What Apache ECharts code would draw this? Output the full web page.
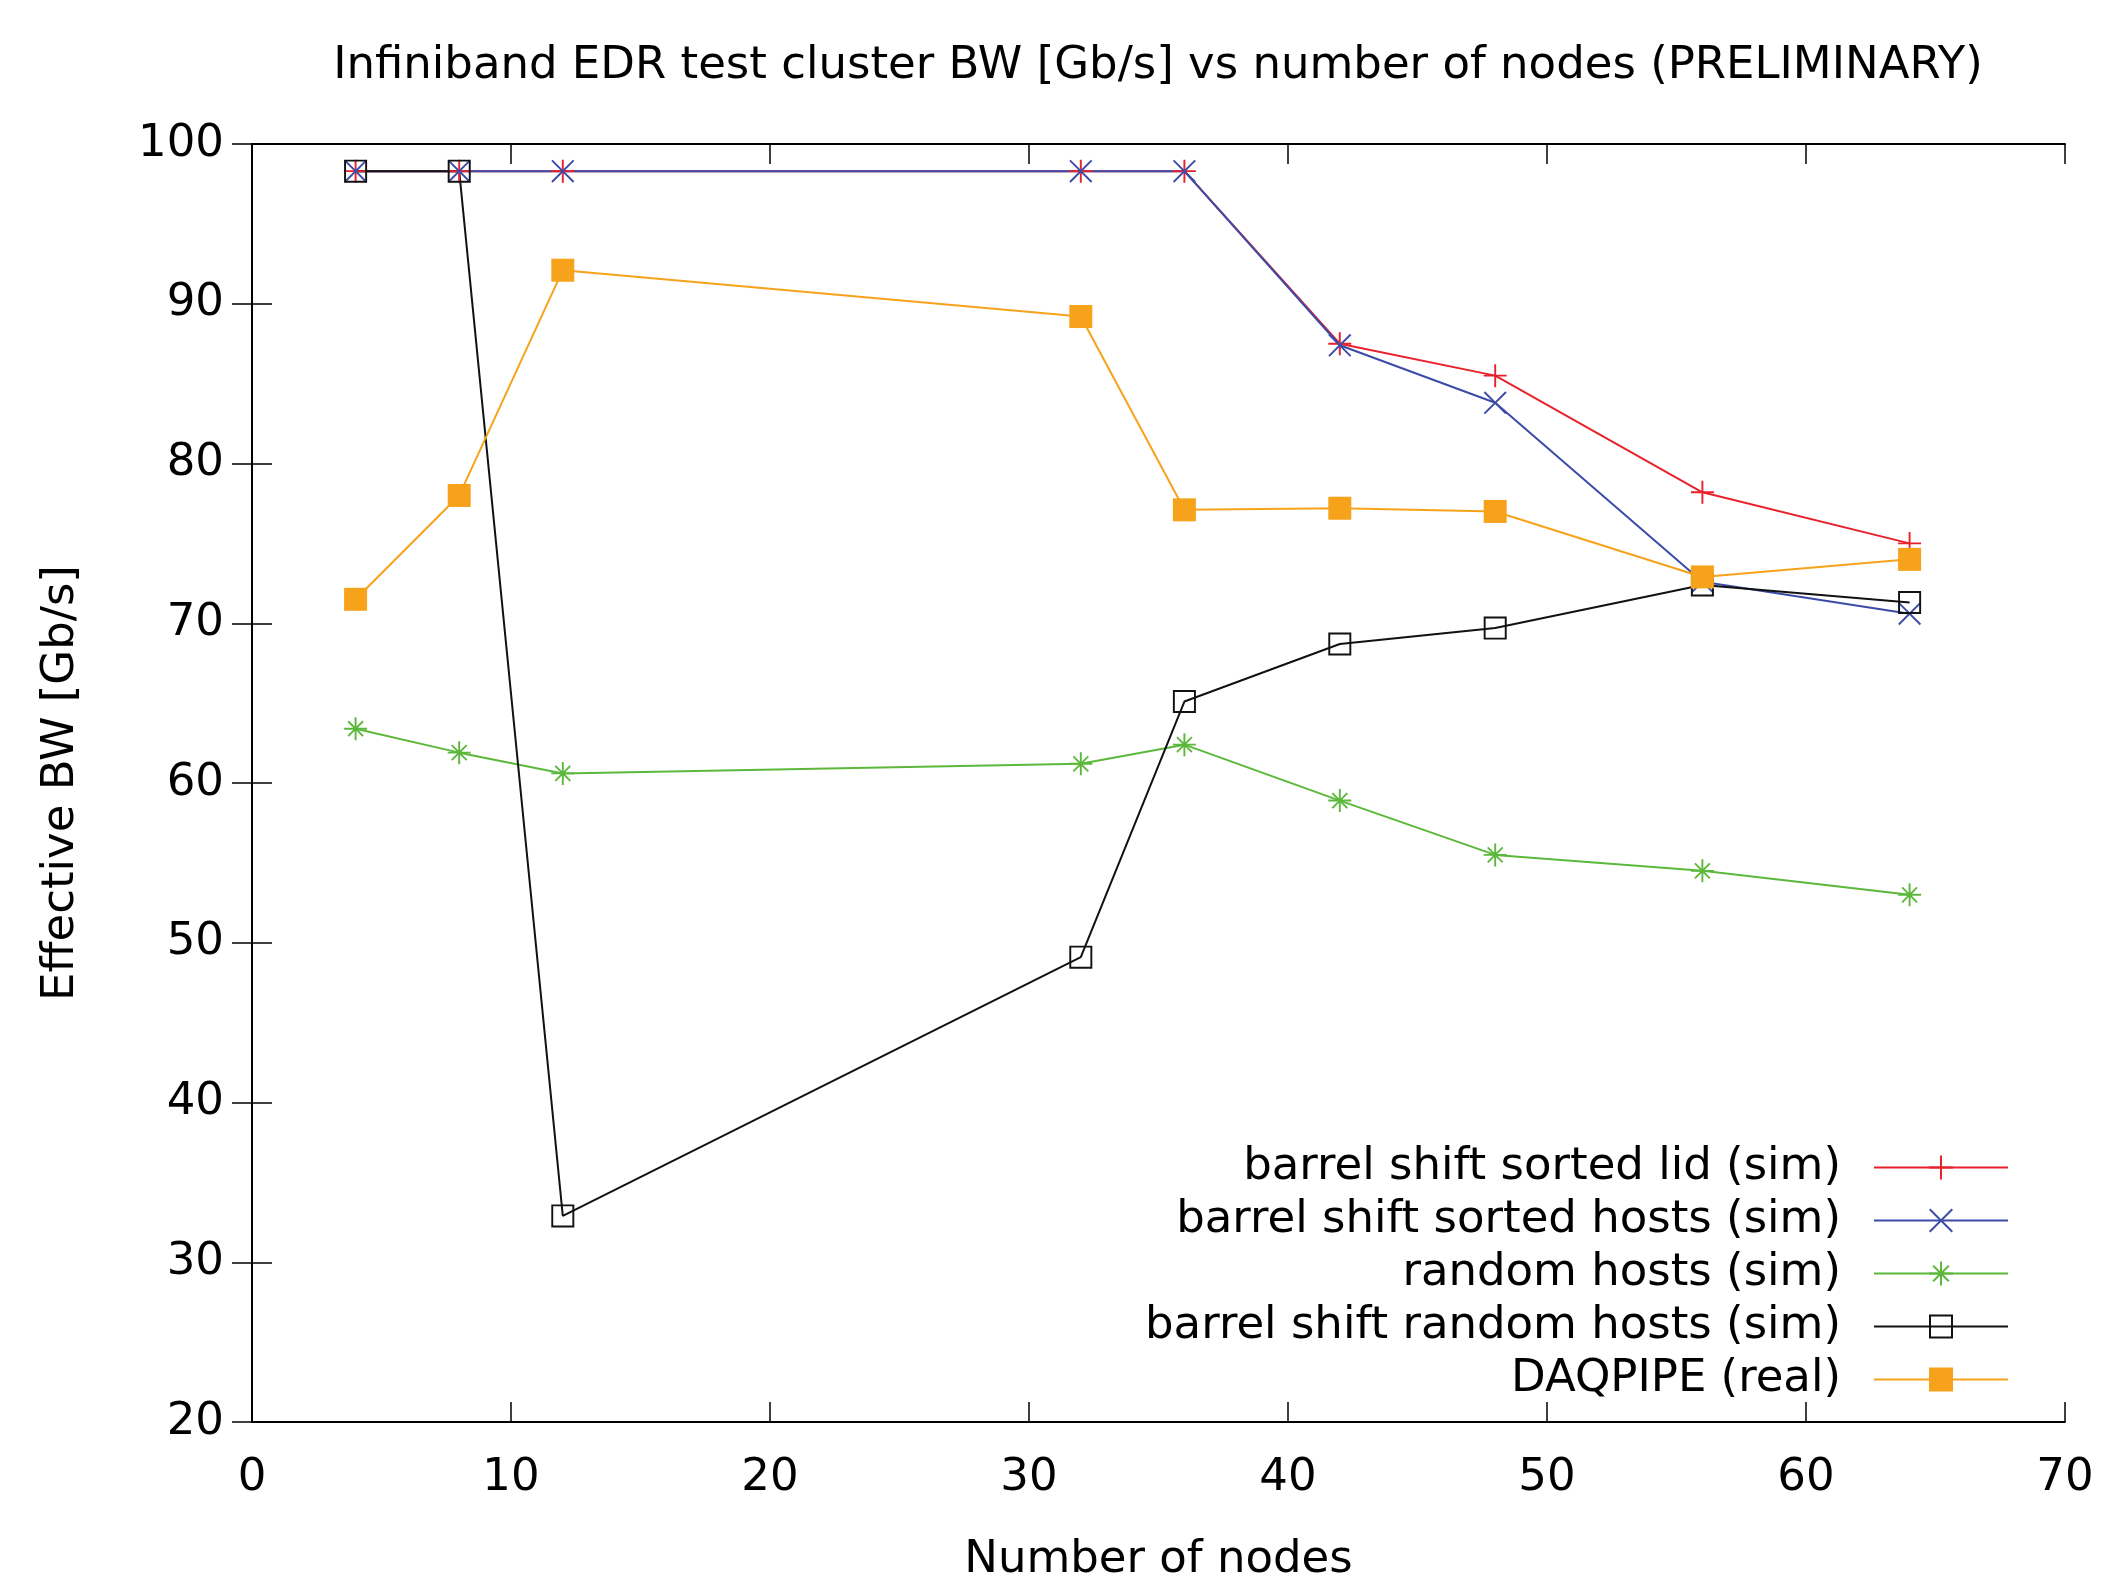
<!DOCTYPE html>
<html>
<head>
<meta charset="utf-8">
<script src="https://cdn.jsdelivr.net/npm/echarts@6/dist/echarts.min.js"></script>
<style>
  html, body { margin: 0; padding: 0; background: #fff; }
  #chart { width: 2105px; height: 1573px; }
</style>
</head>
<body>
<div id="chart"></div>
<script>
// number of nodes
const nodes = [4, 8, 12, 32, 36, 42, 48, 56, 64];

// effective BW [Gb/s]
const sortedLid = [98.3, 98.3, 98.3, 98.3, 98.3, 87.5, 85.5, 78.2, 75.0];
const sortedHosts = [98.3, 98.3, 98.3, 98.3, 98.3, 87.4, 83.8, 72.6, 70.6];
const randomHosts = [63.4, 61.9, 60.6, 61.2, 62.4, 58.9, 55.5, 54.5, 53.0];
const barrelRandom = [98.3, 98.3, 32.9, 49.1, 65.1, 68.7, 69.7, 72.4, 71.3];
const daqpipe = [71.5, 78.0, 92.1, 89.2, 77.1, 77.2, 77.0, 72.9, 74.0];

const seriesNames = [
  'barrel shift sorted lid (sim)',
  'barrel shift sorted hosts (sim)',
  'random hosts (sim)',
  'barrel shift random hosts (sim)',
  'DAQPIPE (real)'
];

const FONT = 'DejaVu Sans';
const FS = 45;

// gnuplot-like point types, drawn as filled outlines
const PLUS = 'path://M11,0h2v11h11v2h-11v11h-2v-11h-11v-2h11z';
const CROSS = 'path://M0,1.4L1.4,0L24,22.6L22.6,24Z M1.4,24L0,22.6L22.6,0L24,1.4Z';
const STAR = 'path://M11,0h2v11h11v2h-11v11h-2v-11h-11v-2h11z' +
  ' M3.5,4.9L4.9,3.5L20.5,19.1L19.1,20.5Z M4.9,20.5L3.5,19.1L19.1,3.5L20.5,4.9Z';
const BOX = 'path://M0,0H24V24H0Z M2,2V22H22V2Z';

function pts(ys) {
  return nodes.map((x, i) => [x, ys[i]]);
}

function mkSeries(name, ys, color, symbol) {
  return {
    name: name,
    type: 'line',
    data: pts(ys),
    symbol: symbol,
    symbolSize: 23,
    showSymbol: true,
    lineStyle: { color: color, width: 2 },
    itemStyle: { color: color, borderWidth: 0 },
    emphasis: { disabled: true },
    animation: false
  };
}

const chart = echarts.init(document.getElementById('chart'));

const mirrorAxis = {
  axisLabel: { show: false },
  axisTick: { show: true, inside: true, length: 20, lineStyle: { color: '#000', width: 1.5 } },
  axisLine: { show: true, lineStyle: { color: '#000', width: 2 } },
  splitLine: { show: false }
};

chart.setOption({
  backgroundColor: '#fff',
  textStyle: { fontFamily: FONT },
  graphic: [{
    type: 'text',
    x: 1158,
    y: 66,
    style: {
      text: 'Infiniband EDR test cluster BW [Gb/s] vs number of nodes (PRELIMINARY)',
      font: FS + 'px "DejaVu Sans"',
      fill: '#000',
      align: 'center',
      verticalAlign: 'middle'
    }
  }],
  grid: { left: 252, right: 40, top: 144, bottom: 151, containLabel: false, outerBoundsMode: 'none' },
  legend: {
    orient: 'vertical',
    align: 'right',
    right: 91,
    top: 1140,
    itemWidth: 134,
    itemHeight: 30,
    itemGap: 8,
    data: seriesNames,
    textStyle: { fontFamily: FONT, fontSize: FS, color: '#000', lineHeight: 40, padding: [0, 28, 0, 0] },
    selectedMode: false
  },
  xAxis: [{
    type: 'value',
    min: 0, max: 70, interval: 10,
    name: 'Number of nodes',
    nameLocation: 'middle',
    nameGap: 116,
    nameTextStyle: { fontFamily: FONT, fontSize: FS, color: '#000' },
    axisLabel: { fontFamily: FONT, fontSize: FS, color: '#000', margin: 34 },
    axisTick: { show: true, inside: true, length: 20, lineStyle: { color: '#000', width: 1.5 } },
    axisLine: { show: true, onZero: false, lineStyle: { color: '#000', width: 2 } },
    splitLine: { show: false }
  }, Object.assign({
    type: 'value', position: 'top', min: 0, max: 70, interval: 10
  }, mirrorAxis)],
  yAxis: [{
    type: 'value',
    min: 20, max: 100, interval: 10,
    name: 'Effective BW [Gb/s]',
    nameLocation: 'middle',
    nameGap: 168,
    nameTextStyle: { fontFamily: FONT, fontSize: FS, color: '#000' },
    axisLabel: { fontFamily: FONT, fontSize: FS, color: '#000', margin: 28 },
    axisTick: { show: true, inside: true, length: 20, lineStyle: { color: '#000', width: 1.5 } },
    axisLine: { show: true, onZero: false, lineStyle: { color: '#000', width: 2 } },
    splitLine: { show: false }
  }, Object.assign({
    type: 'value', position: 'right', min: 20, max: 100, interval: 10
  }, mirrorAxis)],
  series: [
    mkSeries(seriesNames[0], sortedLid, '#e8212b', PLUS),
    mkSeries(seriesNames[1], sortedHosts, '#3b4ba8', CROSS),
    mkSeries(seriesNames[2], randomHosts, '#5cb83a', STAR),
    mkSeries(seriesNames[3], barrelRandom, '#111111', BOX),
    mkSeries(seriesNames[4], daqpipe, '#f7a21b', 'rect')
  ]
});
</script>
</body>
</html>
